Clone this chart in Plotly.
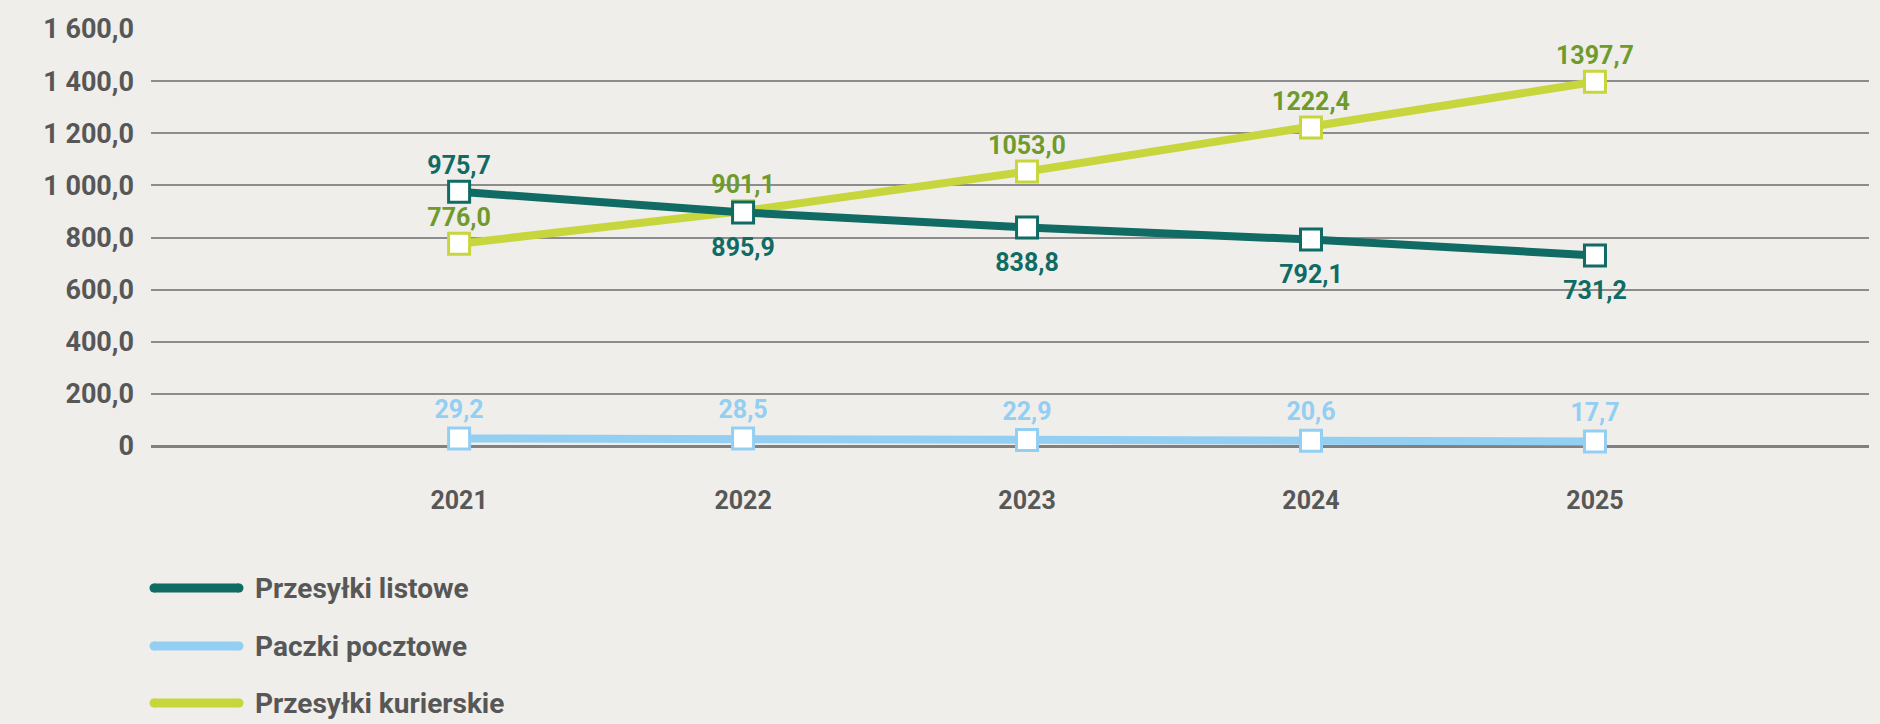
import plotly.graph_objects as go

years = ["2021", "2022", "2023", "2024", "2025"]
listowe = [975.7, 895.9, 838.8, 792.1, 731.2]
paczki = [29.2, 28.5, 22.9, 20.6, 17.7]
kurierskie = [776.0, 901.1, 1053.0, 1222.4, 1397.7]
names = ["Przesyłki listowe", "Paczki pocztowe", "Przesyłki kurierskie"]
y_tickvals = [0, 200, 400, 600, 800, 1000, 1200, 1400, 1600]
y_ticktext = ["0", "200,0", "400,0", "600,0", "800,0", "1 000,0", "1 200,0", "1 400,0", "1 600,0"]

TEAL = "#0f6b63"
LIME = "#c6d63c"
OLIVE = "#6f9a2c"
BLUE = "#93cff2"
GRAY = "#575757"
BG = "#efeeea"
FONT = "Roboto"

W, H = 1880, 724
L, R, T, B = 151, 11, 29, 278
PW, PH = W - L - R, H - T - B


def fmt(v):
    return f"{v:.1f}".replace(".", ",")


fig = go.Figure()
xs = list(range(len(years)))

# (name, values, line colour, label colour, label positions, label spacing sizes)
series = [
    (names[1], paczki, BLUE, BLUE, ["top center"] * 5, [21] * 5),
    (names[2], kurierskie, LIME, OLIVE, ["top center"] * 5, [17] * 5),
    (names[0], listowe, TEAL, TEAL, ["top center"] + ["bottom center"] * 4, [17, 38, 38, 38, 38]),
]
for name, vals, col, tcol, pos, spacing in series:
    fig.add_trace(go.Scatter(
        x=xs, y=vals, name=name, mode="lines+markers",
        line=dict(color=col, width=8),
        marker=dict(symbol="square", size=21, color="white",
                    line=dict(color=col, width=3)),
        cliponaxis=False, showlegend=False, hoverinfo="skip",
    ))
for name, vals, col, tcol, pos, spacing in series:
    fig.add_trace(go.Scatter(
        x=xs, y=vals, name=name + " (etykiety)", mode="markers+text",
        marker=dict(size=spacing, color="rgba(0,0,0,0)", line=dict(width=0)),
        text=[fmt(v) for v in vals], textposition=pos,
        textfont=dict(family=FONT, size=25, color=tcol, weight="bold"),
        cliponaxis=False, showlegend=False, hoverinfo="skip",
    ))

# custom legend (long rounded line samples)
legend_cols = [TEAL, BLUE, LIME]
legend_y_px = [588, 646, 703]
shapes = []
annotations = []
for nm, col, ypx in zip(names, legend_cols, legend_y_px):
    py = (H - B - ypx) / PH
    x0 = (154 - L) / PW
    x1 = (239 - L) / PW
    shapes.append(dict(type="line", xref="paper", yref="paper", x0=x0, x1=x1, y0=py, y1=py,
                       line=dict(color=col, width=9), layer="above"))
    for xe in (x0, x1):
        shapes.append(dict(type="circle", xref="paper", yref="paper", xsizemode="pixel",
                           ysizemode="pixel", xanchor=xe, yanchor=py, x0=-4.5, x1=4.5,
                           y0=-4.5, y1=4.5, fillcolor=col, line=dict(width=0), layer="above"))
    annotations.append(dict(xref="paper", yref="paper", x=(253 - L) / PW, y=py, xanchor="left",
                            yanchor="middle", text=nm, showarrow=False,
                            font=dict(family=FONT, size=28, color=GRAY, weight="bold")))

fig.update_layout(
    width=W, height=H,
    margin=dict(l=L, r=R, t=T, b=B, pad=0),
    paper_bgcolor=BG, plot_bgcolor=BG,
    font=dict(family=FONT, color=GRAY),
    shapes=shapes, annotations=annotations,
    xaxis=dict(
        range=[-1.085, 4.965], tickvals=xs, ticktext=years,
        showgrid=False, zeroline=False, showline=False, ticks="",
        ticklabelstandoff=37,
        tickfont=dict(family=FONT, size=25, color=GRAY, weight="bold"),
    ),
    yaxis=dict(
        range=[0, 1600], tickvals=y_tickvals, ticktext=y_ticktext,
        showgrid=True, gridcolor="#8c8c8c", gridwidth=1.5,
        zeroline=True, zerolinecolor="#808080", zerolinewidth=3,
        showline=False, ticks="", ticklabelstandoff=16,
        tickfont=dict(family=FONT, size=27, color=GRAY, weight="bold"),
    ),
)

fig.write_html(
    "out.html",
    config={"displayModeBar": False},
    post_script="document.body.style.margin='0';document.body.style.overflow='hidden';"
                "document.body.style.background='" + BG + "';",
)
